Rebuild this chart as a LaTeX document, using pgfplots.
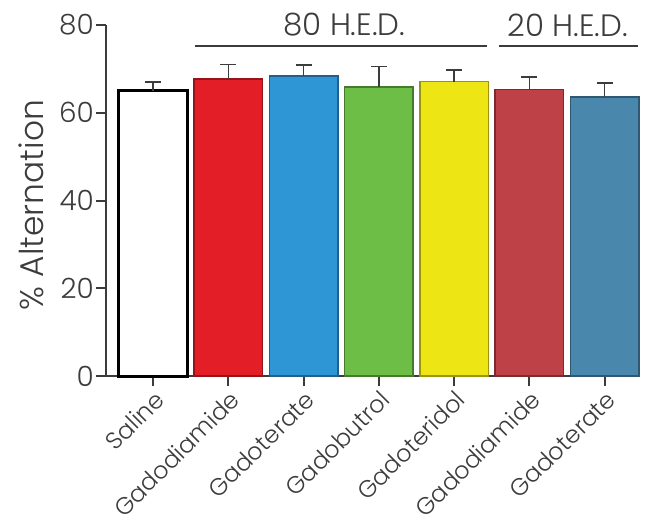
\documentclass[border=0pt]{standalone}
\usepackage{pgfplots}
\pgfplotsset{compat=1.18}
\usepackage{fontspec}
\setmainfont{Poppins Light}

\definecolor{txt}{HTML}{3C3C3C}
\definecolor{cred}{RGB}{228,30,38}
\definecolor{cblue}{RGB}{47,150,213}
\definecolor{cgreen}{RGB}{108,190,70}
\definecolor{cyellow}{RGB}{237,230,20}
\definecolor{cdred}{RGB}{190,65,72}
\definecolor{csteel}{RGB}{74,135,172}

\pgfplotsset{
  onebar/.style={ybar, bar shift=0pt, bar width=0.91, line width=1.5bp,
    error bars/y dir=plus, error bars/y explicit,
    error bars/error bar style={line width=1.5bp, color=txt},
    error bars/error mark options={line width=1.5bp, color=txt, mark size=8bp, rotate=90}},
}

\begin{document}
\begin{tikzpicture}
\begin{axis}[
    scale only axis,
    width=534bp, height=351bp,
    xmin=-0.625, xmax=6.47,
    ymin=0, ymax=80,
    axis lines*=left,
    axis line style={line width=2bp, color=txt},
    ytick={0,20,...,80},
    xtick={0,...,6},
    xticklabels={Saline,Gadodiamide,Gadoterate,Gadobutrol,Gadoteridol,Gadodiamide,Gadoterate},
    tick align=outside,
    major tick length=10bp,
    tick style={line width=2bp, color=txt},
    /pgf/number format/assume math mode=true,
    yticklabel style={font=\fontsize{28}{28}\selectfont, color=txt, inner sep=2bp},
    xticklabel style={font=\fontsize{24}{24}\selectfont, color=txt, rotate=45, anchor=north east, inner sep=2bp},
    ylabel={\% Alternation},
    ylabel style={font=\fontsize{33}{33}\selectfont, color=txt, at={(axis description cs:-0.1404,0.487)}, anchor=center},
    clip=false,
]
\addplot[onebar, fill=white, draw=black, line width=3bp] coordinates {(0,65.0) +- (0,2.0)};
\addplot[onebar, fill=cred, draw=cred!65!black] coordinates {(1,67.7) +- (0,3.3)};
\addplot[onebar, fill=cblue, draw=cblue!65!black] coordinates {(2,68.4) +- (0,2.5)};
\addplot[onebar, fill=cgreen, draw=cgreen!65!black] coordinates {(3,65.9) +- (0,4.6)};
\addplot[onebar, fill=cyellow, draw=cyellow!65!black] coordinates {(4,67.1) +- (0,2.6)};
\addplot[onebar, fill=cdred, draw=cdred!65!black] coordinates {(5,65.3) +- (0,2.8)};
\addplot[onebar, fill=csteel, draw=csteel!65!black] coordinates {(6,63.6) +- (0,3.2)};

\draw[line width=2bp, color=txt] (axis cs:0.56,75.2) -- (axis cs:4.44,75.2);
\draw[line width=2bp, color=txt] (axis cs:4.6,75.2) -- (axis cs:6.44,75.2);
\node[font=\fontsize{31}{31}\selectfont, color=txt] at (axis cs:2.54,80) {80 H.E.D.};
\node[font=\fontsize{31}{31}\selectfont, color=txt] at (axis cs:5.51,80) {20 H.E.D.};
\coordinate (O) at (rel axis cs:0,0);
\end{axis}
\pgfresetboundingbox
\path ([shift={(-106bp,-143bp)}]O) rectangle ([shift={(542bp,376bp)}]O);
\end{tikzpicture}
\end{document}
